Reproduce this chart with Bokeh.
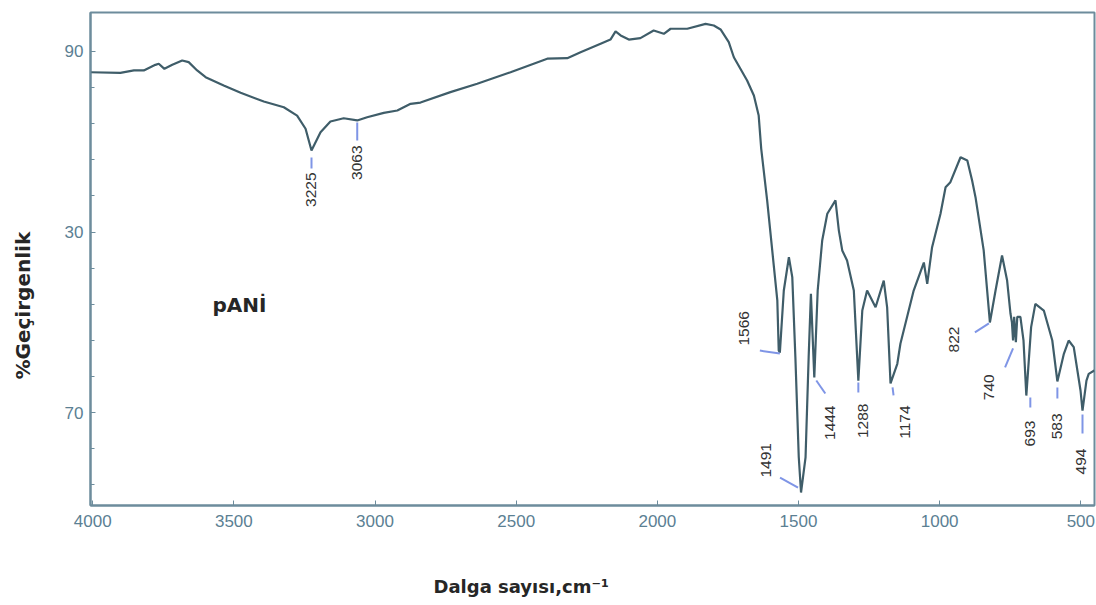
import numpy as np
from bokeh.plotting import figure
from bokeh.models import Range1d, FixedTicker, Label, ColumnDataSource, Title
from bokeh.embed import file_html
from bokeh.resources import INLINE
from bokeh.core.properties import value

# ---- data ----
wavenumber = [4008, 3902, 3854, 3819, 3778, 3766, 3746, 3718, 3683, 3660,
              3630, 3600, 3536, 3476, 3394, 3323, 3276, 3246, 3225, 3193,
              3158, 3111, 3063, 3028, 2969, 2921, 2874, 2839, 2733, 2638,
              2520, 2390, 2319, 2272, 2201, 2166, 2148, 2130, 2101, 2060,
              2013, 1977, 1953, 1894, 1829, 1800, 1776, 1747, 1729, 1682,
              1658, 1641, 1632, 1611, 1593, 1575, 1570, 1566, 1552, 1534,
              1522, 1511, 1499, 1491, 1475, 1464, 1456, 1444, 1432, 1416,
              1398, 1369, 1357, 1345, 1328, 1304, 1288, 1274, 1257, 1227,
              1198, 1186, 1174, 1150, 1139, 1092, 1056, 1044, 1027, 997,
              979, 962, 926, 902, 885, 873, 844, 822, 802, 779,
              761, 749, 744, 740, 736, 730, 725, 714, 703, 693,
              676, 661, 631, 601, 583, 560, 543, 525, 501, 494,
              480, 472, 452]
transmittance = [88.85, 88.82, 88.95, 88.95, 89.26, 89.32, 89.04, 89.26, 89.50, 89.41,
                 88.95, 88.58, 88.12, 87.71, 87.23, 86.91, 86.45, 85.72, 84.52, 85.53,
                 86.12, 86.30, 86.18, 86.36, 86.60, 86.73, 87.10, 87.17, 87.75, 88.21,
                 88.85, 89.60, 89.63, 89.96, 90.43, 90.66, 91.11, 90.89, 90.66, 90.74,
                 91.16, 90.98, 91.26, 91.26, 91.53, 91.44, 91.22, 90.52, 89.68, 88.39,
                 87.56, 86.45, 84.61, 81.75, 78.98, 76.21, 73.44, 73.32, 76.76, 78.60,
                 77.50, 73.06, 67.52, 65.57, 67.52, 73.06, 76.58, 71.94, 76.76, 79.53,
                 81.01, 81.75, 80.08, 78.98, 78.42, 76.76, 71.77, 75.65, 76.76, 75.83,
                 77.31, 75.83, 71.61, 72.70, 73.81, 76.76, 78.31, 77.13, 79.14, 81.01,
                 82.48, 82.76, 84.14, 83.96, 82.85, 81.93, 78.98, 74.99, 76.76, 78.70,
                 77.31, 75.47, 75.0, 74.0, 75.3, 73.9, 75.3, 75.3, 74.0, 70.94,
                 74.73, 76.02, 75.65, 73.99, 71.72, 73.25, 73.99, 73.62, 71.22, 70.11,
                 71.77, 72.14, 72.33]

peak_wn = [3225, 3063, 1566, 1491, 1444, 1288, 1174, 822, 740, 693, 583, 494]
x_ticks = [4000, 3500, 3000, 2500, 2000, 1500, 1000, 500]
y_ticks = [70, 80, 90]
y_tick_labels = {80: "30"}
y_minor = [66, 68, 72, 74, 76, 78, 82, 84, 86, 88]

# ---- layout / style ----
W, H = 1096, 605
BL, BR, BT, BB = 90, 2, 12, 100
X0, X1 = 4007.8, 451.5
Y0, Y1 = 64.85, 92.16
FW, FH = W - BL - BR, H - BT - BB
PXX = FW / (X0 - X1)
PXY = FH / (Y1 - Y0)

# label / marker screen offsets (dx right, dy down) per peak
seg_off = [((0, 7), (0, 18)), ((0, 2), (0, 20)), ((0, 1), (-20, -2)),
           ((-3, -5), (-21, -15)), ((2, 3), (11, 16)), ((0, 2), (0, 12)),
           ((2, 4), (3, 12)), ((-1, 1), (-15, 10)), ((0, 8), (-8, 27)),
           ((4, 2), (4, 12)), ((0, 6), (0, 17)), ((0, 4), (0, 23))]
lab_off = [(0, 22, "right"), (0, 25, "right"), (-36, -7, "left"),
           (-35, -15, "left"), (16, 28, "right"), (5, 23, "right"),
           (14, 22, "right"), (-36, 30, "left"), (-24, 34, "right"),
           (4, 25, "right"), (0, 32, "right"), (-2, 38, "right")]

wn_asc = np.array(wavenumber[::-1], dtype=float)
t_asc = np.array(transmittance[::-1], dtype=float)
peak_t = np.interp(peak_wn, wn_asc, t_asc)

p = figure(width=W, height=H, output_backend="svg", toolbar_location=None,
           x_range=Range1d(X0, X1), y_range=Range1d(Y0, Y1),
           min_border_left=BL, min_border_right=BR, min_border_top=BT,
           min_border_bottom=BB)
p.background_fill_color = "white"
p.border_fill_color = "white"
p.grid.visible = False
p.outline_line_color = "#6d8c9c"
p.outline_line_width = 2

axis_col = "#6d8c9c"
lab_col = "#5b8093"
for ax in (p.xaxis[0], p.yaxis[0]):
    ax.axis_line_color = axis_col
    ax.axis_line_width = 2
    ax.major_tick_line_color = axis_col
    ax.minor_tick_line_color = axis_col
    ax.major_tick_in = 5
    ax.major_tick_out = 0
    ax.minor_tick_in = 4
    ax.minor_tick_out = 0
    ax.major_label_text_color = lab_col
    ax.major_label_text_font = "Liberation Sans"
    ax.major_label_text_font_size = "17px"

p.xaxis.ticker = FixedTicker(ticks=x_ticks)
p.xaxis.minor_tick_line_color = None
p.xaxis.major_label_standoff = 9
p.yaxis.ticker = FixedTicker(ticks=y_ticks, minor_ticks=y_minor)
p.yaxis.major_label_overrides = y_tick_labels
p.yaxis.major_label_standoff = 7

# spectrum
p.line(wavenumber, transmittance, line_color="#3f5d69", line_width=2.2)

# peak markers
sx0, sy0, sx1, sy1 = [], [], [], []
for w, t, ((a, b), (c, d)) in zip(peak_wn, peak_t, seg_off):
    sx0.append(w - a / PXX); sy0.append(t - b / PXY)
    sx1.append(w - c / PXX); sy1.append(t - d / PXY)
p.segment(sx0, sy0, sx1, sy1, line_color="#7f95e6", line_width=2)

for align in ("right", "left"):
    xs, ys, txt = [], [], []
    for w, t, (dx, dy, al) in zip(peak_wn, peak_t, lab_off):
        if al != align:
            continue
        xs.append(w - dx / PXX); ys.append(t - dy / PXY); txt.append(str(w))
    src = ColumnDataSource(dict(x=xs, y=ys, text=txt))
    p.text(x="x", y="y", text="text", source=src, angle=np.pi / 2,
           text_align=align, text_baseline="middle",
           text_font=value("Liberation Sans"), text_font_size="15.5px",
           text_color="#333333")

# texts
p.add_layout(Label(x=3576, y=75.98, text="pANİ", text_font="DejaVu Sans",
                   text_font_style="bold", text_font_size="20px",
                   text_color="#262626", text_baseline="alphabetic",
                   text_align="left"))
p.add_layout(Title(text="\n\nDalga sayısı,cm⁻¹", align="left", offset=343,
                   standoff=4, text_font="DejaVu Sans", text_font_style="bold",
                   text_font_size="18px", text_color="#262626"), "below")
p.add_layout(Title(text="%Geçirgenlik\n", align="left", offset=126,
                   standoff=5, text_font="DejaVu Sans", text_font_style="bold",
                   text_font_size="20px", text_color="#262626"), "left")

open("out.html", "w").write(file_html(p, INLINE))
